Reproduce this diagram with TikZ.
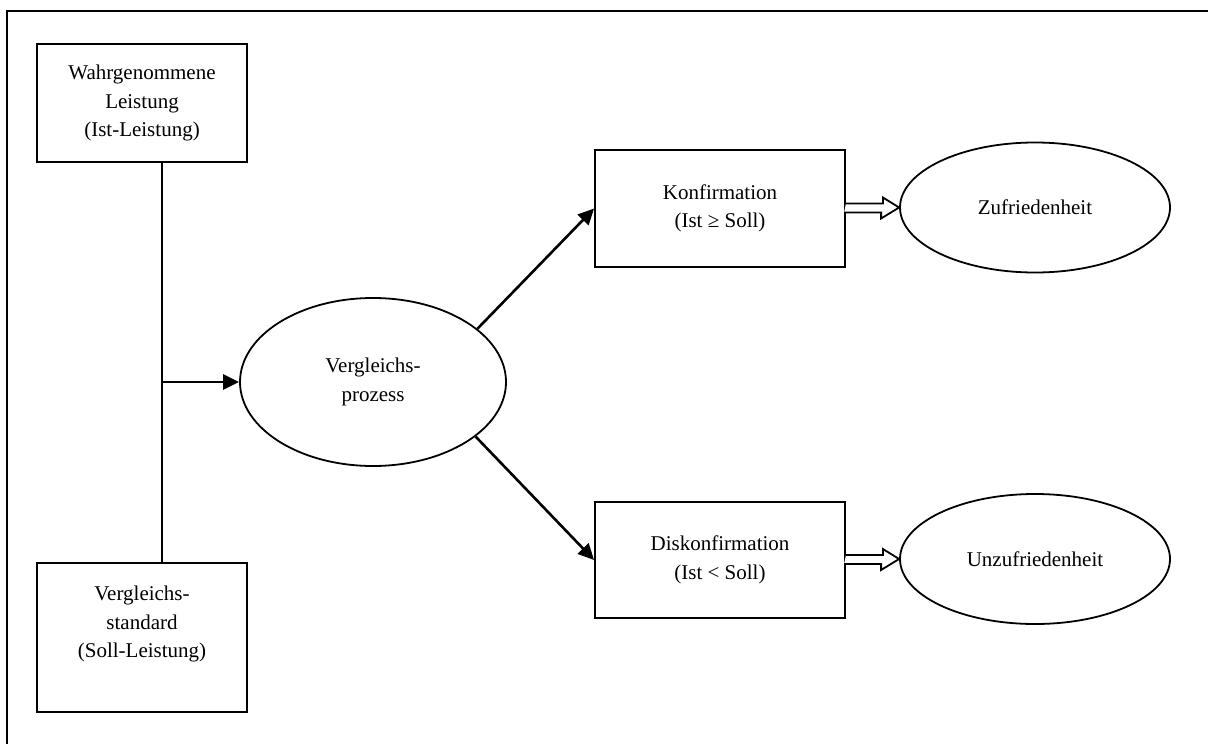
\documentclass[tikz,border=0pt]{standalone}
\usepackage{fontspec}
\setmainfont{Liberation Serif}
\usetikzlibrary{arrows.meta,shapes.geometric}
\begin{document}
\begin{tikzpicture}[x=1pt,y=-1pt,
  every node/.style={font=\fontsize{21}{28.5}\selectfont, align=center, inner sep=0pt},
  stagebox/.style={draw, line width=1.8pt, rectangle},
  stateoval/.style={draw, line width=1.8pt, ellipse},
  flow/.style={line width=2.6pt, -{Triangle[length=16pt,width=15pt]}},
  hollow/.style={draw, line width=1.8pt, fill=white, line join=miter}
]
\useasboundingbox (0,0) rectangle (1208,744);
% surrounding frame (only top and left edges fall on the page)
\draw[line width=2pt] (7,760) -- (7,11) -- (1220,11);

% inputs
\node[stagebox, minimum width=210pt, minimum height=118pt] (ist) at (142,103)
  {Wahrgenommene\\Leistung\\(Ist-Leistung)};
\node[stagebox, minimum width=210pt, minimum height=149pt] (soll) at (142,637.5) {};
\node (solltext) at (142,624) {Vergleichs-\\standard\\(Soll-Leistung)};

% comparison
\node[stateoval, minimum width=266pt, minimum height=168pt] (vgl) at (373,382)
  {Vergleichs-\\prozess};
\coordinate (junct) at (162,382);

% outcomes
\node[stagebox, minimum width=250pt, minimum height=117pt] (konf) at (720,208.5)
  {Konfirmation\\(Ist ≥ Soll)};
\node[stagebox, minimum width=250pt, minimum height=116pt] (diskonf) at (720,560)
  {Diskonfirmation\\(Ist < Soll)};
\node[stateoval, minimum width=270pt, minimum height=130pt] (zuf) at (1035,207.5)
  {Zufriedenheit};
\node[stateoval, minimum width=270pt, minimum height=130pt] (unzuf) at (1035,559)
  {Unzufriedenheit};

% connectors
\draw[line width=2.2pt] (junct |- ist.south) -- (junct |- soll.north);
\draw[flow] (junct) -- (vgl.west);
\draw[flow] (vgl.27) -- (konf.west);
\draw[flow] (vgl.-28) -- (diskonf.west);

% hollow double arrows
\path[hollow] (konf.east) ++(0,-5) -- ++(37,0) -- ++(0,-6) -- (zuf.west)
  -- ++(-18,11) -- ++(0,-6) -- ++(-37,0);
\path[hollow] (diskonf.east) ++(0,-5) -- ++(37,0) -- ++(0,-6) -- (unzuf.west)
  -- ++(-18,11) -- ++(0,-6) -- ++(-37,0);
\end{tikzpicture}
\end{document}
